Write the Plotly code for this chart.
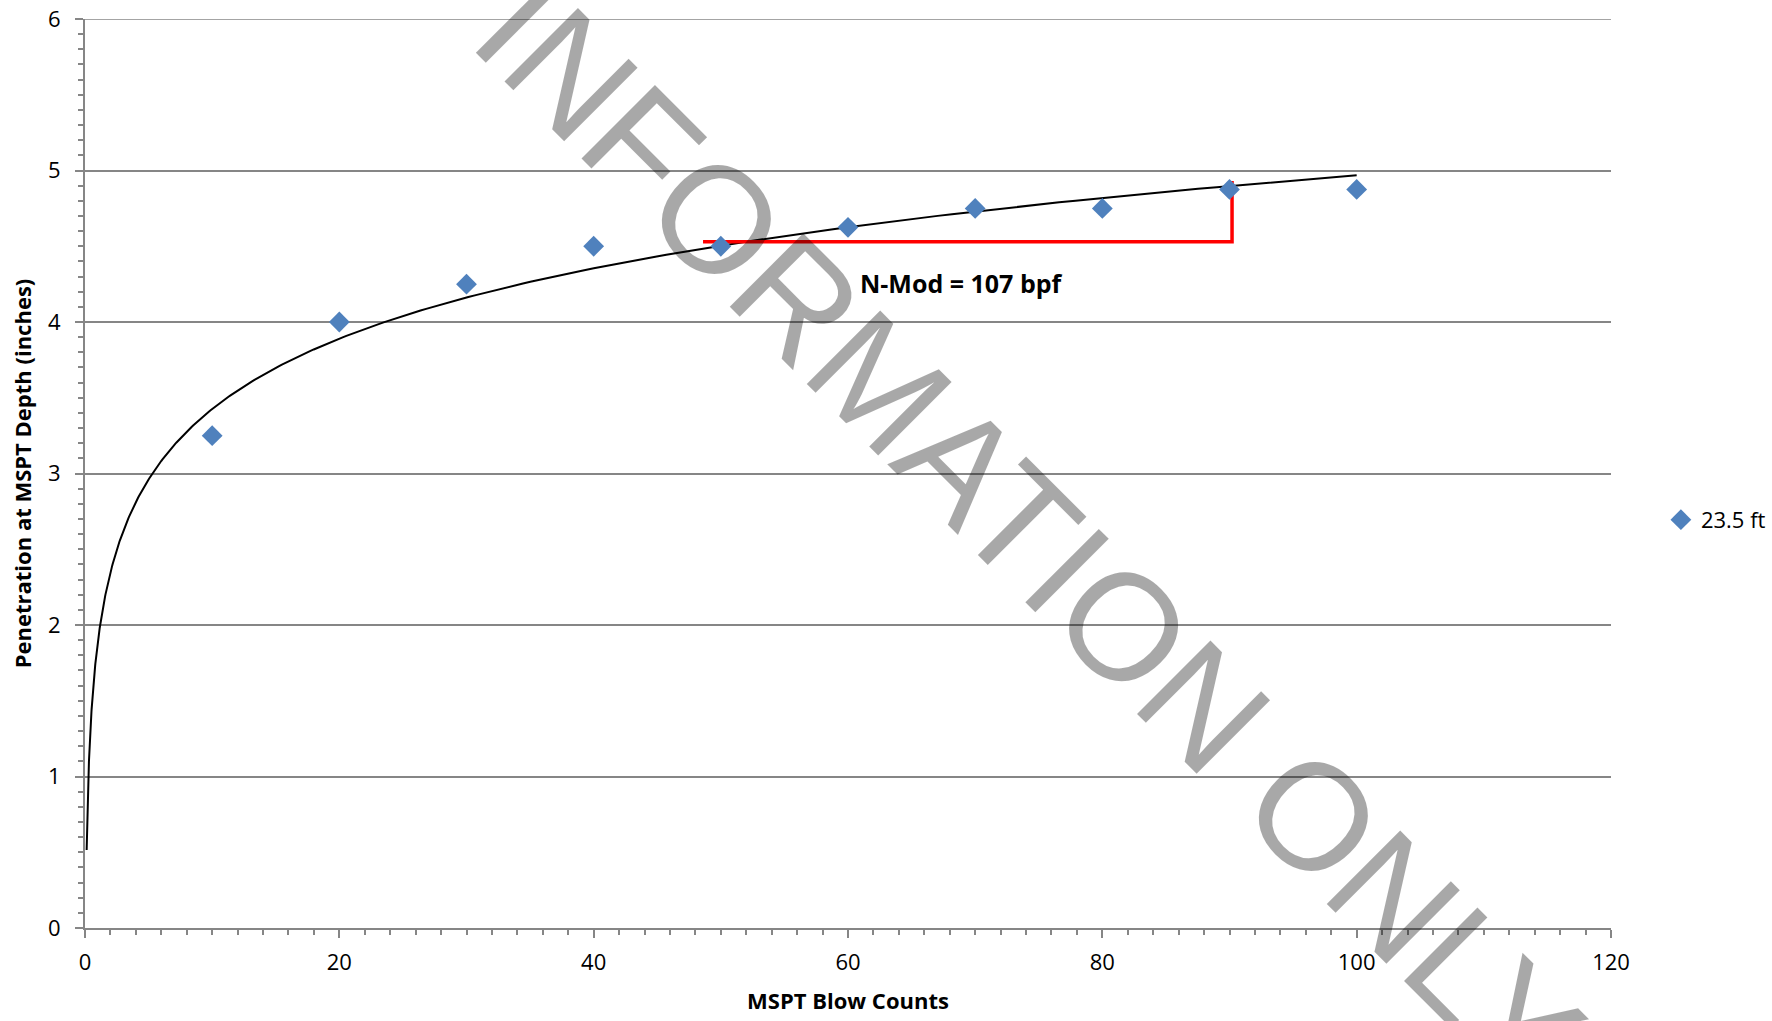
import numpy as np
import plotly.graph_objects as go

# ---- data ----
blow_counts = [10, 20, 30, 40, 50, 60, 70, 80, 90, 100]
penetration = [3.25, 4.0, 4.25, 4.5, 4.5, 4.625, 4.75, 4.75, 4.875, 4.875]
series_name = "23.5 ft"

nmod_x = [48.6, 90.2, 90.2]
nmod_y = [4.53, 4.53, 4.93]
nmod_label = "N-Mod = 107 bpf"
nmod_label_pos = [60.8, 4.256]

x_title = "MSPT Blow Counts"
y_title = "Penetration at MSPT Depth (inches)"
watermark = "INFORMATION ONLY"
y_max = 6

# logarithmic trendline (least squares fit of the data, as in the source chart)
a, b = np.polyfit(np.log(blow_counts), penetration, 1)
trend_x = np.geomspace(0.13, 100, 400)
trend_y = a * np.log(trend_x) + b

FONT = "Open Sans"
GRAY = "#868686"

fig = go.Figure()
fig.add_trace(go.Scatter(x=trend_x, y=trend_y, mode="lines",
                         line=dict(color="black", width=2), showlegend=False,
                         hoverinfo="skip"))
fig.add_trace(go.Scatter(x=nmod_x, y=nmod_y, mode="lines",
                         line=dict(color="#FF0000", width=3.5), showlegend=False,
                         hoverinfo="skip"))
fig.add_trace(go.Scatter(x=blow_counts, y=penetration, mode="markers", name=series_name,
                         marker=dict(symbol="diamond", size=16, color="#4F81BD")))

# top gridline (plotly drops gridlines lying exactly on the plot edge)
fig.add_hline(y=y_max, line=dict(color=GRAY, width=1.5), layer="below")

fig.add_annotation(x=nmod_label_pos[0], y=nmod_label_pos[1], xref="x", yref="y",
                   text="<b>" + nmod_label + "</b>", showarrow=False,
                   xanchor="left", yanchor="middle",
                   font=dict(family=FONT, size=25, color="black"))

fig.add_annotation(x=0.6183, y=0.4357, xref="paper", yref="paper",
                   text=watermark, showarrow=False, textangle=45,
                   xanchor="center", yanchor="middle",
                   font=dict(family="Liberation Sans", size=151, color="rgba(0,0,0,0.34)"))

axis_common = dict(
    showline=True, linecolor=GRAY, linewidth=2,
    ticks="outside", ticklen=8, tickwidth=2, tickcolor=GRAY,
    zeroline=False, automargin=False, ticklabeloverflow="allow",
    tickfont=dict(family=FONT, size=22, color="black"),
)

fig.update_xaxes(range=[0, 120], tickmode="linear", tick0=0, dtick=20, showgrid=False,
                 minor=dict(tick0=0, dtick=2, ticks="outside", ticklen=5, tickwidth=1.5,
                            tickcolor=GRAY, showgrid=False),
                 ticklabelstandoff=6,
                 title=dict(text="<b>" + x_title + "</b>", standoff=18,
                            font=dict(family=FONT, size=22, color="black")),
                 **axis_common)
fig.update_yaxes(range=[0, y_max], tickmode="linear", tick0=0, dtick=1, showgrid=True,
                 gridcolor=GRAY, gridwidth=1.5,
                 minor=dict(tick0=0, dtick=0.1, ticks="outside", ticklen=5, tickwidth=1.5,
                            tickcolor=GRAY, showgrid=False),
                 ticklabelstandoff=10,
                 title=dict(text="<b>" + y_title + "</b>", standoff=10,
                            font=dict(family=FONT, size=22, color="black")),
                 **axis_common)

fig.update_layout(
    width=1772, height=1021,
    margin=dict(l=85, r=161, t=19, b=93, pad=0, autoexpand=False),
    paper_bgcolor="white", plot_bgcolor="white",
    font=dict(family=FONT, size=22, color="black"),
    legend=dict(x=1.0327, xanchor="left", y=0.449, yanchor="middle",
                font=dict(family=FONT, size=22, color="black"),
                bgcolor="rgba(0,0,0,0)", itemwidth=30),
)

# remove the default 8px page margin so the figure fills the window exactly
fig.write_html("out.html", config={"displayModeBar": False},
               post_script="document.body.style.margin='0';")
